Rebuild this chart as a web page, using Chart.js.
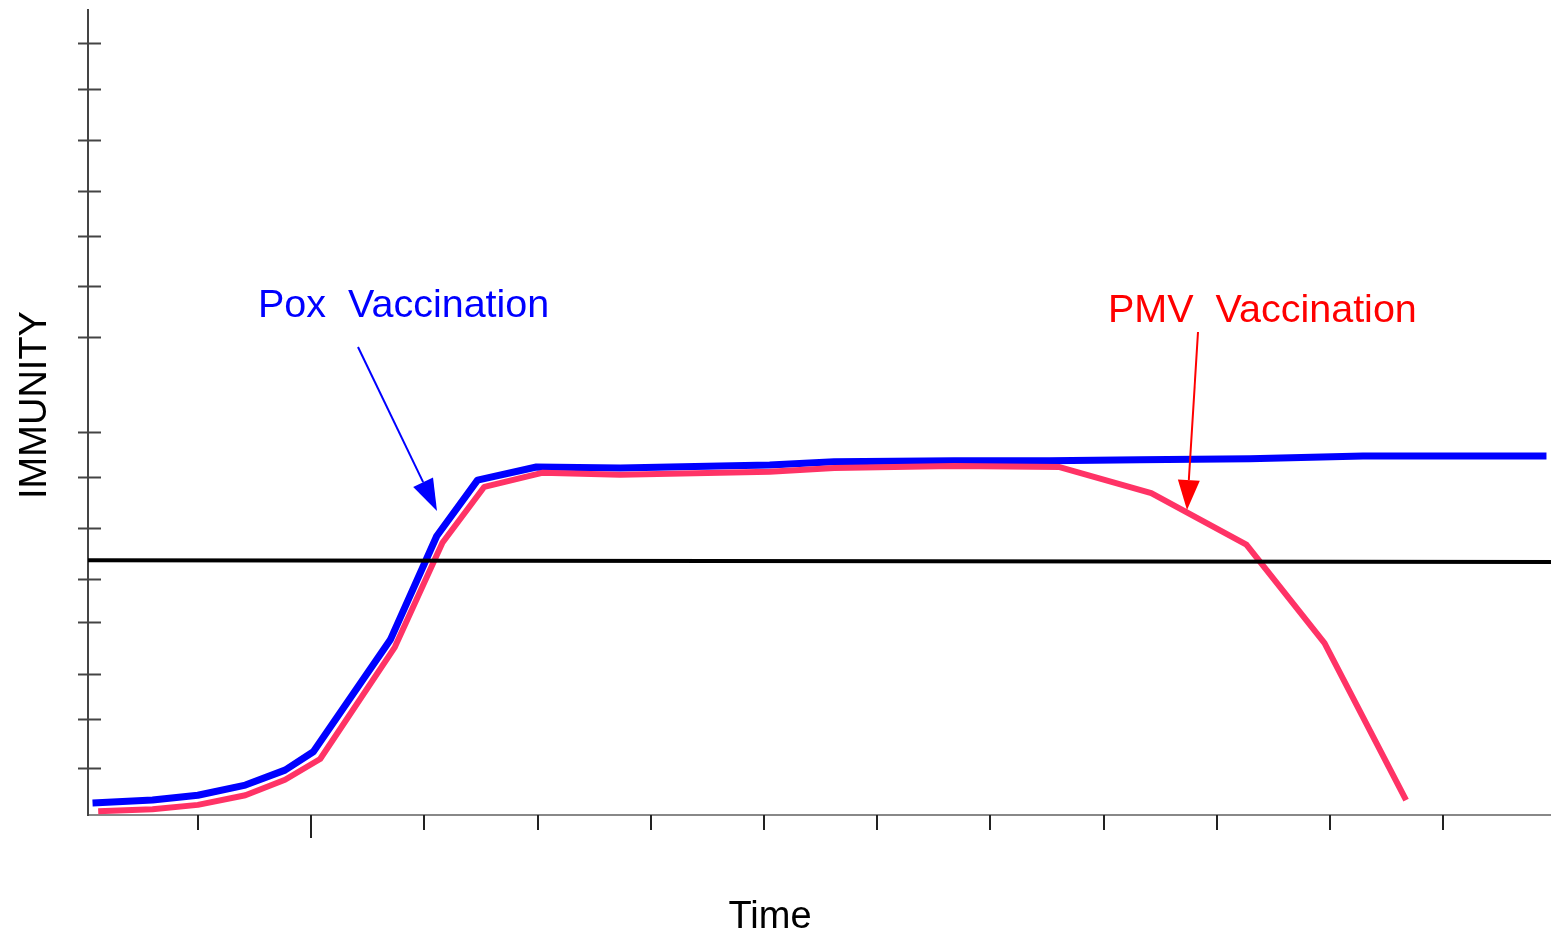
<!DOCTYPE html>
<html>
<head>
<meta charset="utf-8">
<title>Immunity over time</title>
<script src="https://cdn.jsdelivr.net/npm/chart.js@4.4.1/dist/chart.umd.min.js"></script>
<style>
  html, body { margin: 0; padding: 0; background: #fff; }
  #wrap { width: 1551px; height: 934px; position: relative; }
</style>
</head>
<body>
<div id="wrap"><canvas id="immunityChart"></canvas></div>
<script>
// values (time in tick units, immunity in tick units)
const poxTime = [0.07, 0.60, 1.00, 1.42, 1.77, 2.02, 2.70, 3.11, 3.47, 3.99, 4.73, 6.05, 6.62, 7.68, 8.52, 9.32, 10.29, 11.29, 12.91];
const poxImmunity = [0.25, 0.31, 0.41, 0.62, 0.93, 1.31, 3.63, 5.78, 6.94, 7.21, 7.19, 7.25, 7.32, 7.34, 7.34, 7.36, 7.38, 7.44, 7.44];

const pmvTime = [0.12, 0.60, 1.00, 1.42, 1.77, 2.08, 2.74, 3.16, 3.53, 4.04, 4.73, 6.05, 6.62, 7.68, 8.61, 9.42, 10.26, 10.95, 11.67];
const pmvImmunity = [0.08, 0.12, 0.21, 0.41, 0.73, 1.16, 3.48, 5.64, 6.80, 7.09, 7.05, 7.11, 7.19, 7.23, 7.21, 6.67, 5.60, 3.56, 0.31];

const thresholdTime = [0.03, 12.95];
const thresholdLevel = [5.28, 5.24];

const timeTicks = [1, 2, 3, 4, 5, 6, 7, 8, 9, 10, 11, 12];
const immunityTicks = [0.97, 1.99, 2.92, 4.0, 4.89, 5.95, 7.0, 7.94, 9.91, 10.96, 12.0, 12.93, 13.99, 15.05, 16.0];

const toPoints = (xs, ys) => xs.map((x, i) => ({ x: x, y: ys[i] }));

const FONT = '"Liberation Sans", Arial, sans-serif';

function arrow(ctx, x1, y1, x2, y2, color, headLen, headW) {
    const ang = Math.atan2(y2 - y1, x2 - x1);
    const bx = x2 - headLen * Math.cos(ang);
    const by = y2 - headLen * Math.sin(ang);
    ctx.strokeStyle = color;
    ctx.fillStyle = color;
    ctx.lineWidth = 2;
    ctx.beginPath();
    ctx.moveTo(x1, y1);
    ctx.lineTo(bx, by);
    ctx.stroke();
    const px = -Math.sin(ang) * headW / 2;
    const py = Math.cos(ang) * headW / 2;
    ctx.beginPath();
    ctx.moveTo(x2, y2);
    ctx.lineTo(bx + px, by + py);
    ctx.lineTo(bx - px, by - py);
    ctx.closePath();
    ctx.fill();
}

// tick marks that cross the y axis, plus labels and arrows
const decorations = {
    id: 'decorations',
    afterDraw(chart) {
        const ctx = chart.ctx;
        const xs = chart.scales.x;
        const ys = chart.scales.y;
        const area = chart.chartArea;
        ctx.save();

        ctx.strokeStyle = '#444';
        ctx.lineWidth = 2;
        immunityTicks.forEach(v => {
            const y = Math.round(ys.getPixelForValue(v)) + 0.5;
            ctx.beginPath();
            ctx.moveTo(area.left - 10, y);
            ctx.lineTo(area.left + 13, y);
            ctx.stroke();
        });

        ctx.strokeStyle = '#222';
        timeTicks.forEach(v => {
            const x = Math.round(xs.getPixelForValue(v));
            ctx.beginPath();
            ctx.moveTo(x, area.bottom);
            ctx.lineTo(x, area.bottom + (v === 2 ? 23 : 15));
            ctx.stroke();
        });

        ctx.font = '39.5px ' + FONT;
        ctx.textBaseline = 'alphabetic';
        ctx.textAlign = 'left';
        ctx.fillStyle = '#0000ff';
        ctx.fillText('Pox  Vaccination', 258, 317);
        ctx.fillStyle = '#ff0000';
        ctx.fillText('PMV  Vaccination', 1108, 322);

        arrow(ctx, 358, 347, 437, 511, '#0000ff', 32, 22);
        arrow(ctx, 1198, 332, 1187, 510, '#ff0000', 30, 22);

        ctx.fillStyle = '#000';
        ctx.font = '38px ' + FONT;
        ctx.textAlign = 'center';
        ctx.fillText('Time', 770, 928);

        ctx.translate(46, 405);
        ctx.rotate(-Math.PI / 2);
        ctx.fillText('IMMUNITY', 0, 0);
        ctx.restore();
    }
};

new Chart(document.getElementById('immunityChart'), {
    type: 'line',
    data: {
        datasets: [
            {
                label: 'Protective level',
                data: toPoints(thresholdTime, thresholdLevel),
                borderColor: '#000',
                borderWidth: 4,
                pointRadius: 0,
                tension: 0
            },
            {
                label: 'PMV Vaccination',
                data: toPoints(pmvTime, pmvImmunity),
                borderColor: '#ff3366',
                borderWidth: 6,
                pointRadius: 0,
                tension: 0,
                borderJoinStyle: 'round'
            },
            {
                label: 'Pox Vaccination',
                data: toPoints(poxTime, poxImmunity),
                borderColor: '#0000ff',
                borderWidth: 7,
                pointRadius: 0,
                tension: 0,
                borderJoinStyle: 'round'
            }
        ]
    },
    options: {
        responsive: true,
        maintainAspectRatio: false,
        animation: false,
        layout: {
            autoPadding: false,
            padding: { left: 88, top: 10, right: 0, bottom: 119 }
        },
        plugins: {
            legend: { display: false },
            tooltip: { enabled: false }
        },
        scales: {
            x: {
                type: 'linear',
                min: 0.03,
                max: 12.95,
                grid: { display: false, drawTicks: false },
                ticks: { display: false },
                border: { display: true, color: '#888', width: 2 }
            },
            y: {
                type: 'linear',
                min: 0,
                max: 16.68,
                grid: { display: false, drawTicks: false },
                ticks: { display: false },
                border: { display: true, color: '#444', width: 2 }
            }
        }
    },
    plugins: [decorations]
});
</script>
</body>
</html>
